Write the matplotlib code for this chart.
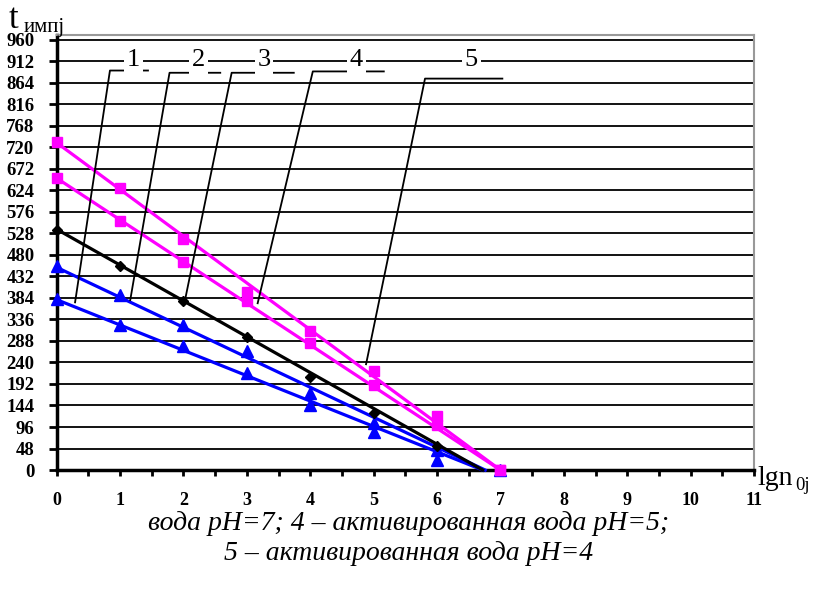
import matplotlib
matplotlib.use("Agg")
import matplotlib.pyplot as plt
import numpy as np

# ---- data ----
x_pts = [0, 1, 2, 3, 4, 5, 6]
s1 = [382, 324, 277, 217, 144, 84, 22]      # blue lower
s2 = [455, 390, 323, 265, 171, 104, 45]     # blue upper
s3 = [535, 455, 378, 297, 207, 127, 53]     # black
s4 = [651, 555, 464, 378, 284, 189, 100, 0] # pink lower
s5 = [731, 629, 516, 398, 311, 220, 120, 0] # pink upper
x_pink = [0, 1, 2, 3, 4, 5, 6, 7]

# fitted lines: intercept at x=0 and x where line reaches 0
line_y0 = [380, 452, 537, 651, 730]
line_xend = [6.72, 6.76, 6.72, 7.0, 7.0]

xticks = list(range(0, 12))
yticks = list(range(0, 961, 48))

labels = ["1", "2", "3", "4", "5"]
label_x = [1.21, 2.24, 3.27, 4.73, 6.54]
lead_hx0 = [0.84, 1.78, 2.76, 4.04, 5.81]
lead_hx1 = [1.44, 2.58, 3.74, 5.16, 7.03]
lead_hy = [891, 886, 886, 889, 873]
lead_ex = [0.29, 1.16, 2.03, 3.17, 4.88]
lead_ey = [374, 379, 383, 372, 236]

caption1 = "вода pH=7; 4 – активированная вода pH=5;"
caption2 = "5 – активированная вода pH=4"

plt.rcParams['font.family'] = ['Liberation Serif', 'DejaVu Serif']

fig = plt.figure(figsize=(8.18, 5.95), dpi=100)
ax = fig.add_axes([0.0693, 0.210, 0.8525, 0.731])
ax.set_xlim(0, 11)
ax.set_ylim(0, 970)

# grid
for yv in yticks[1:]:
    ax.axhline(yv, color='black', lw=1.3, zorder=1)

colors = ['#0000FF', '#0000FF', 'black', '#FF00FF', '#FF00FF']
for y0, xe, c in zip(line_y0, line_xend, colors):
    ax.plot([0, xe], [y0, 0], color=c, lw=2.3, zorder=3, clip_on=False)

ax.plot([7], [0], marker='^', color='#0000FF', ms=8, ls='none', zorder=4, clip_on=False)
ax.plot(x_pts, s1, marker='^', color='#0000FF', ms=8, ls='none', zorder=4, clip_on=False)
ax.plot(x_pts, s2, marker='^', color='#0000FF', ms=8, ls='none', zorder=4, clip_on=False)
ax.plot(x_pts, s3, marker='D', color='black', ms=5, ls='none', zorder=4, clip_on=False)
ax.plot(x_pink, s4, marker='s', color='#FF00FF', ms=7, ls='none', zorder=5, clip_on=False)
ax.plot(x_pink, s5, marker='s', color='#FF00FF', ms=7, ls='none', zorder=5, clip_on=False)

# leader lines and labels
for lab, lx, hx0, hx1, hy, ex, ey in zip(labels, label_x, lead_hx0, lead_hx1, lead_hy, lead_ex, lead_ey):
    ax.plot([hx1, hx0, ex], [hy, hy, ey], color='black', lw=1.3, zorder=6)
    ax.text(lx, 914, lab, fontsize=19, ha='center', va='center', zorder=7,
            bbox=dict(facecolor='white', edgecolor='none', pad=2))

# ticks
ax.set_xticks(xticks)
ax.set_xticks(np.arange(0.5, 11, 1.0), minor=True)
ax.set_yticks(yticks)
ax.set_xticklabels([str(v) for v in xticks], fontsize=13, fontweight='bold')
ax.set_yticklabels([str(v) for v in yticks], fontsize=13.5, fontweight='bold')
ax.tick_params(axis='x', which='both', direction='out', length=4, width=2, pad=12)
ax.tick_params(axis='y', which='both', direction='out', length=6, width=2, pad=10)

for sp in ['left', 'bottom']:
    ax.spines[sp].set_linewidth(2.5)
    ax.spines[sp].set_color('black')
for sp in ['top', 'right']:
    ax.spines[sp].set_linewidth(1.5)
    ax.spines[sp].set_color('#999999')

# axis titles
fig.text(9 / 818, 1 - 28 / 595, "t", fontsize=25, ha='left', va='baseline')
fig.text(24 / 818, 1 - 32 / 595, "импj", fontsize=15, ha='left', va='baseline')
fig.text(757 / 818, 1 - 485 / 595, "lgn", fontsize=20, ha='left', va='baseline')
fig.text(795 / 818, 1 - 490 / 595, "0j", fontsize=13.5, ha='left', va='baseline')

fig.text(0.5, 1 - 523 / 595, caption1, fontsize=20, style='italic', ha='center', va='center')
fig.text(0.5, 1 - 554 / 595, caption2, fontsize=20, style='italic', ha='center', va='center')

fig.savefig("out.png", dpi=100)
